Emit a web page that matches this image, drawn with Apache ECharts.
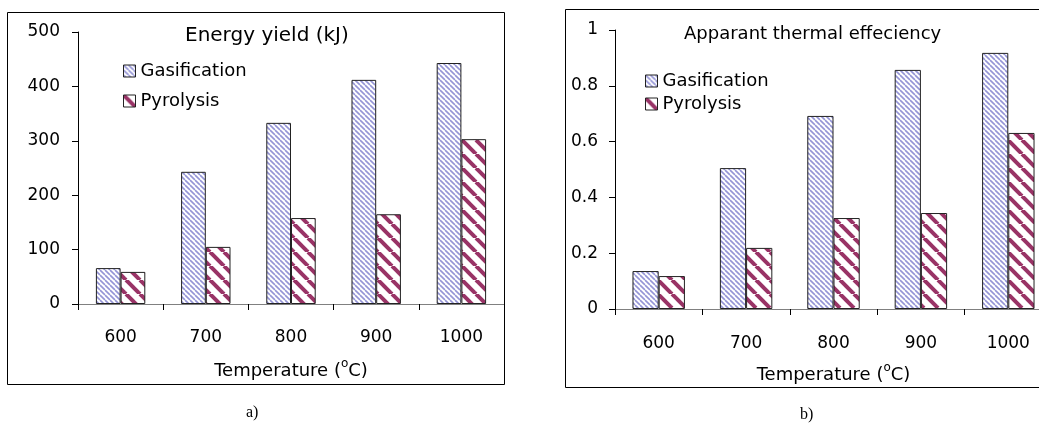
<!DOCTYPE html>
<html>
<head>
<meta charset="utf-8">
<script src="https://cdn.jsdelivr.net/npm/echarts@6/dist/echarts.min.js"></script>
<style>
  html, body { margin: 0; background: #ffffff; }
  #chart { width: 1039px; height: 423px; }
</style>
</head>
<body>
<div id="chart"></div>
<script>
// categories and values
const temperatures = ['600', '700', '800', '900', '1000'];
const energyGasification = [66, 243, 333, 412, 443];
const energyPyrolysis = [59, 105, 158, 165, 303];
const effGasification = [0.136, 0.505, 0.692, 0.857, 0.918];
const effPyrolysis = [0.118, 0.219, 0.326, 0.344, 0.631];

const FONT = 'DejaVu Sans';

// diagonal hatch tiles ("\" direction)
function hatch(size, color, width) {
  const c = document.createElement('canvas');
  c.width = size;
  c.height = size;
  const ctx = c.getContext('2d');
  ctx.fillStyle = '#ffffff';
  ctx.fillRect(0, 0, size, size);
  ctx.strokeStyle = color;
  ctx.lineWidth = width;
  for (let k = -1; k <= 1; k++) {
    ctx.beginPath();
    ctx.moveTo(k * size, 0);
    ctx.lineTo(k * size + size, size);
    ctx.stroke();
  }
  return { image: c, repeat: 'repeat' };
}

const gasFill = hatch(5, '#9494d6', 1.6);
const pyroFill = hatch(14, '#993366', 4);

const barBorder = { borderColor: '#222', borderWidth: 1 };

function xAxisFor(gridIndex, margin, nameGap) {
  return {
    type: 'category',
    gridIndex: gridIndex,
    data: temperatures,
    name: 'Temperature ({s|o}C)',
    nameLocation: 'middle',
    nameGap: nameGap,
    nameTextStyle: {
      fontFamily: FONT, fontSize: 18, color: '#000',
      rich: { s: { fontFamily: FONT, fontSize: 12, color: '#000', padding: [0, 0, 14, 0] } }
    },
    axisLine: { lineStyle: { color: '#808080', width: 1 } },
    axisTick: { show: true, length: 6, lineStyle: { color: '#000' } },
    axisLabel: { fontFamily: FONT, fontSize: 17, color: '#000', margin: margin },
    splitLine: { show: false }
  };
}

function yAxisFor(gridIndex, max, interval, margin) {
  return {
    type: 'value',
    gridIndex: gridIndex,
    min: 0,
    max: max,
    interval: interval,
    axisLine: { show: true, lineStyle: { color: '#000', width: 1 } },
    axisTick: { show: true, length: 6, lineStyle: { color: '#000' } },
    axisLabel: { fontFamily: FONT, fontSize: 17, color: '#000', margin: margin },
    splitLine: { show: false }
  };
}

const chart = echarts.init(document.getElementById('chart'));

const option = {
  backgroundColor: '#ffffff',
  animation: false,
  title: [
    { text: 'Energy yield (kJ)', left: 180, top: 21,
      textStyle: { fontFamily: FONT, fontSize: 20, fontWeight: 'normal', color: '#000' } },
    { text: 'Apparant thermal effeciency', left: 679, top: 20,
      textStyle: { fontFamily: FONT, fontSize: 18, fontWeight: 'normal', color: '#000' } }
  ],
  legend: [
    {
      orient: 'vertical', left: 118, top: 57, itemWidth: 12, itemHeight: 12, itemGap: 12,
      textStyle: { fontFamily: FONT, fontSize: 18, color: '#000' },
      data: [
        { name: 'Gasification', icon: 'rect', itemStyle: { color: gasFill, borderColor: '#222', borderWidth: 1 } },
        { name: 'Pyrolysis', icon: 'rect', itemStyle: { color: pyroFill, borderColor: '#222', borderWidth: 1 } }
      ]
    },
    {
      orient: 'vertical', left: 640, top: 67, itemWidth: 12, itemHeight: 12, itemGap: 5,
      textStyle: { fontFamily: FONT, fontSize: 18, color: '#000' },
      data: [
        { name: 'Gasification', icon: 'rect', itemStyle: { color: gasFill, borderColor: '#222', borderWidth: 1 } },
        { name: 'Pyrolysis', icon: 'rect', itemStyle: { color: pyroFill, borderColor: '#222', borderWidth: 1 } }
      ]
    }
  ],
  grid: [
    { left: 78, top: 32, width: 426, height: 272, outerBoundsMode: 'none' },
    { left: 615, top: 30, width: 437, height: 279, outerBoundsMode: 'none' }
  ],
  xAxis: [xAxisFor(0, 25, 54), xAxisFor(1, 26, 53)],
  yAxis: [yAxisFor(0, 500, 100, 18), yAxisFor(1, 1, 0.2, 17)],
  series: [
    { name: 'Gasification', type: 'bar', xAxisIndex: 0, yAxisIndex: 0, data: energyGasification,
      barGap: '0%', barCategoryGap: '42%', itemStyle: Object.assign({ color: gasFill }, barBorder) },
    { name: 'Pyrolysis', type: 'bar', xAxisIndex: 0, yAxisIndex: 0, data: energyPyrolysis,
      barGap: '0%', barCategoryGap: '42%', itemStyle: Object.assign({ color: pyroFill }, barBorder) },
    { name: 'Gasification', type: 'bar', xAxisIndex: 1, yAxisIndex: 1, data: effGasification,
      barGap: '0%', barCategoryGap: '40%', itemStyle: Object.assign({ color: gasFill }, barBorder) },
    { name: 'Pyrolysis', type: 'bar', xAxisIndex: 1, yAxisIndex: 1, data: effPyrolysis,
      barGap: '0%', barCategoryGap: '40%', itemStyle: Object.assign({ color: pyroFill }, barBorder) }
  ],
  graphic: [
    { type: 'rect', shape: { x: 7.5, y: 12.5, width: 497, height: 372 },
      style: { fill: 'none', stroke: '#000', lineWidth: 1 }, silent: true },
    { type: 'rect', shape: { x: 565.5, y: 9.5, width: 500, height: 378 },
      style: { fill: 'none', stroke: '#000', lineWidth: 1 }, silent: true },
    { type: 'text', left: 246, top: 405,
      style: { text: 'a)', font: '16px "Liberation Serif"', fill: '#000' } },
    { type: 'text', left: 800, top: 407,
      style: { text: 'b)', font: '16px "Liberation Serif"', fill: '#000' } }
  ]
};

chart.setOption(option);
</script>
</body>
</html>
